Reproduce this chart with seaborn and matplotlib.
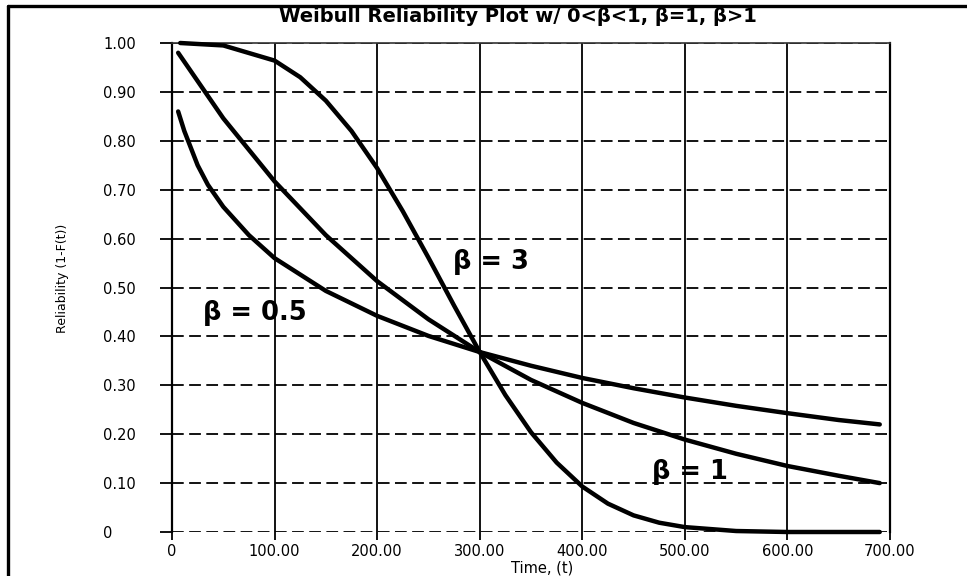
import matplotlib
matplotlib.use("Agg")
import matplotlib.pyplot as plt
from matplotlib.lines import Line2D
import numpy as np
import pandas as pd
import seaborn as sns

# ---- data ----
time_b05 = [6, 12, 25, 35, 50, 75, 100, 150, 200, 250, 300, 350, 400, 450, 500, 550, 600, 650, 690]
rel_b05 = [0.86, 0.82, 0.75, 0.71, 0.665, 0.607, 0.56, 0.493, 0.442, 0.401, 0.368,
           0.34, 0.315, 0.294, 0.275, 0.258, 0.243, 0.229, 0.22]

time_b1 = [6, 50, 100, 150, 200, 250, 300, 350, 400, 450, 500, 550, 600, 650, 690]
rel_b1 = [0.98, 0.846, 0.717, 0.607, 0.513, 0.435, 0.368, 0.311, 0.264, 0.223,
          0.189, 0.16, 0.135, 0.115, 0.10]

time_b3 = [8, 50, 100, 125, 150, 175, 200, 225, 250, 275, 300, 325, 350, 375, 400,
           425, 450, 475, 500, 550, 600, 690]
rel_b3 = [1.0, 0.995, 0.964, 0.930, 0.882, 0.820, 0.744, 0.656, 0.561, 0.463, 0.368,
          0.280, 0.204, 0.142, 0.093, 0.058, 0.034, 0.019, 0.010, 0.002, 0.0, 0.0]

series_names = ["β = 0.5", "β = 1", "β = 3"]
label_pos_t = [30, 468, 274]
label_pos_r = [0.448, 0.123, 0.552]

x_ticks = [0, 100, 200, 300, 400, 500, 600, 700]
x_tick_labels = ["0", "100.00", "200.00", "300.00", "400.00", "500.00", "600.00", "700.00"]
y_ticks = [0, 0.1, 0.2, 0.3, 0.4, 0.5, 0.6, 0.7, 0.8, 0.9, 1.0]
y_tick_labels = ["0", "0.10", "0.20", "0.30", "0.40", "0.50", "0.60", "0.70", "0.80", "0.90", "1.00"]

title = "Weibull Reliability Plot w/ 0<β<1, β=1, β>1"
x_label = "Time, (t)"
y_label = "Reliability (1-F(t))"

# ---- build table ----
df = pd.concat([
    pd.DataFrame({"time": time_b05, "rel": rel_b05, "beta": series_names[0]}),
    pd.DataFrame({"time": time_b1, "rel": rel_b1, "beta": series_names[1]}),
    pd.DataFrame({"time": time_b3, "rel": rel_b3, "beta": series_names[2]}),
], ignore_index=True)

sns.set_style("white")
plt.rcParams["font.family"] = ["DejaVu Sans"]
plt.rcParams["text.color"] = "black"
plt.rcParams["axes.labelcolor"] = "black"
plt.rcParams["xtick.color"] = "black"
plt.rcParams["ytick.color"] = "black"

W, H = 967, 576
fig = plt.figure(figsize=(W / 100, H / 100), dpi=100)
L, R, T, B = 172, 890, 43, 532
ax = fig.add_axes([L / W, 1 - B / H, (R - L) / W, (B - T) / H])

sns.lineplot(data=df, x="time", y="rel", hue="beta", palette=["black"] * 3,
             legend=False, linewidth=3.2, estimator=None, sort=True,
             ax=ax, clip_on=False, zorder=5)

ax.set_xlim(0, 700)
ax.set_ylim(0, 1)
ax.set_xticks(x_ticks)
ax.set_xticklabels(x_tick_labels, fontsize=10.5, color="black")
ax.set_yticks(y_ticks)
ax.set_yticklabels(y_tick_labels, fontsize=10.5, color="black")

ax.set_axisbelow(True)
ax.xaxis.grid(True, color="black", linewidth=1.3, linestyle="-")
ax.yaxis.grid(True, color="black", linewidth=1.3, linestyle=(0, (6.5, 3)))

for s in ["left", "right"]:
    ax.spines[s].set_visible(True)
    ax.spines[s].set_color("black")
    ax.spines[s].set_linewidth(1.6)
ax.spines["top"].set_color("#333333")
ax.spines["top"].set_linewidth(1.2)
ax.spines["bottom"].set_visible(False)

ax.tick_params(axis="y", direction="out", length=8.6, width=1.3, color="black", pad=41, left=True)
for lab in ax.get_yticklabels():
    lab.set_horizontalalignment("left")
ax.tick_params(axis="x", direction="out", length=5.8, width=1.3, color="black", pad=3, bottom=True)

ax.set_xlabel(x_label, fontsize=10.5, color="black")
ax.set_ylabel(y_label, fontsize=9, color="black")
ax.xaxis.set_label_coords(0.515, -0.074)
ax.yaxis.set_label_coords(-0.153, 0.519)
ax.xaxis.label.set_va("center")
ax.yaxis.label.set_va("center")

for name, tx, ry in zip(series_names, label_pos_t, label_pos_r):
    ax.text(tx, ry, name, fontsize=18.5, fontweight="bold", ha="left", va="center",
            color="black", zorder=6)

fig.text(518 / W, 1 - 16 / H, title, fontsize=14, fontweight="bold",
         ha="center", va="center", color="black")

fig.add_artist(Line2D([8 / W, 8 / W], [0, 1 - 6 / H], color="black", linewidth=2.4,
                      transform=fig.transFigure))
fig.add_artist(Line2D([8 / W, 1], [1 - 6 / H, 1 - 6 / H], color="black", linewidth=2.4,
                      transform=fig.transFigure))

fig.savefig("out.png", dpi=100)
